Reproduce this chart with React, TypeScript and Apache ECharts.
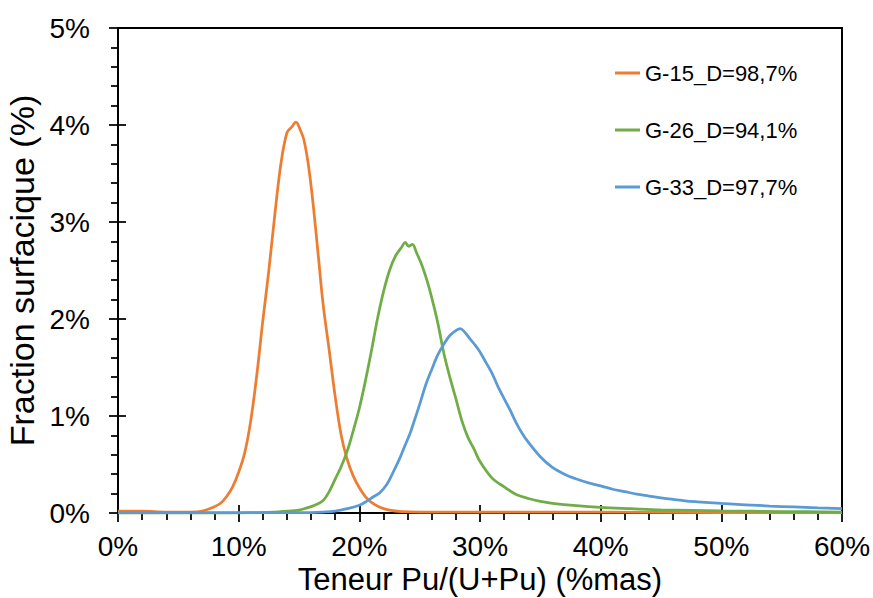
import React, { useEffect, useRef } from "react";
import * as echarts from "echarts";

const FONT = "'Liberation Sans', Arial, sans-serif";

const seriesNames = ["G-15_D=98,7%", "G-26_D=94,1%", "G-33_D=97,7%"];
const seriesColors = ["#ED7D31", "#70AD47", "#5B9BD5"];

const xTickValues = [0, 10, 20, 30, 40, 50, 60];
const yTickValues = [0, 1, 2, 3, 4, 5];

// G-15 (orange)
const g15X = [0, 2, 4, 6, 7, 7.9, 8.5, 9, 9.5, 10, 10.5, 11, 11.5, 12, 12.5, 13, 13.5, 14, 14.4, 14.75, 15.1, 15.4, 15.8, 16.2, 16.6, 17, 17.5, 18, 18.5, 19, 19.5, 20, 20.5, 21, 21.7, 22.5, 23.5, 25, 30, 40, 50, 60];
const g15Y = [0.02, 0.02, 0.01, 0.01, 0.02, 0.06, 0.1, 0.17, 0.27, 0.42, 0.62, 0.95, 1.42, 1.98, 2.5, 3.08, 3.6, 3.92, 3.98, 4.03, 3.95, 3.85, 3.57, 3.15, 2.65, 2.15, 1.68, 1.2, 0.8, 0.55, 0.38, 0.26, 0.17, 0.11, 0.06, 0.03, 0.015, 0.01, 0.01, 0.008, 0.005, 0.005];

// G-26 (green)
const g26X = [0, 10, 13, 14, 15, 15.6, 16.3, 17, 17.5, 18, 18.5, 19, 19.5, 20, 20.5, 21, 21.5, 22, 22.5, 23, 23.5, 23.8, 24.1, 24.4, 24.75, 25.2, 25.6, 26, 26.5, 27, 27.5, 28, 28.5, 29, 29.5, 30, 31, 32, 33, 34, 35, 36, 38, 40, 42.5, 45, 50, 55, 60];
const g26Y = [0, 0, 0.01, 0.02, 0.03, 0.05, 0.08, 0.13, 0.22, 0.35, 0.48, 0.64, 0.85, 1.08, 1.36, 1.67, 2.0, 2.28, 2.5, 2.65, 2.74, 2.79, 2.75, 2.77, 2.68, 2.55, 2.4, 2.22, 1.96, 1.65, 1.4, 1.18, 0.95, 0.78, 0.66, 0.53, 0.36, 0.27, 0.19, 0.15, 0.12, 0.1, 0.075, 0.058, 0.045, 0.033, 0.022, 0.015, 0.01];

// G-33 (blue)
const g33X = [0, 10, 16, 17, 18, 19, 20, 20.6, 21.2, 21.7, 22.3, 22.8, 23.3, 23.7, 24.2, 24.5, 25, 25.5, 26, 26.5, 27, 27.5, 28, 28.35, 28.7, 29.2, 29.6, 30, 30.5, 31, 31.5, 32, 32.5, 33, 33.5, 34, 35, 36, 37, 38, 39, 40, 41, 42, 43, 44, 45, 46, 47, 48, 50, 52, 54, 56, 58, 60];
const g33Y = [0.005, 0.005, 0.005, 0.01, 0.02, 0.045, 0.08, 0.12, 0.17, 0.21, 0.3, 0.42, 0.55, 0.67, 0.82, 0.93, 1.12, 1.32, 1.48, 1.63, 1.74, 1.83, 1.88, 1.9, 1.87, 1.79, 1.73, 1.66, 1.55, 1.44, 1.3, 1.18, 1.06, 0.93, 0.82, 0.73, 0.58, 0.47, 0.4, 0.35, 0.31, 0.28, 0.245, 0.22, 0.195, 0.175, 0.155, 0.14, 0.125, 0.115, 0.098, 0.085, 0.072, 0.062, 0.052, 0.045];

const seriesX = [g15X, g26X, g33X];
const seriesY = [g15Y, g26Y, g33Y];

export default function App() {
  const ref = useRef<HTMLDivElement>(null);

  useEffect(() => {
    document.body.style.margin = "0";
    if (!ref.current) return;
    const chart = echarts.init(ref.current, undefined, { renderer: "svg" });

    const lineBlack = { color: "#000", width: 2 };
    const tickStyle = { color: "#000", width: 1.75 };

    const xMin = xTickValues[0];
    const xMax = xTickValues[xTickValues.length - 1];
    const xInt = xTickValues[1] - xTickValues[0];
    const yMin = yTickValues[0];
    const yMax = yTickValues[yTickValues.length - 1];
    const yInt = yTickValues[1] - yTickValues[0];

    chart.setOption({
      animation: false,
      backgroundColor: "#fff",
      grid: {
        left: 118,
        right: 31,
        top: 28,
        bottom: 85,
        containLabel: false,
        outerBoundsMode: "none",
        show: true,
        borderColor: "#000",
        borderWidth: 2,
        backgroundColor: "transparent",
      },
      legend: {
        orient: "vertical",
        left: 610,
        top: 57,
        icon: "rect",
        itemWidth: 25,
        itemHeight: 3,
        itemGap: 35,
        data: seriesNames,
        textStyle: { fontSize: 22, color: "#000", fontFamily: FONT, lineHeight: 22 },
      },
      xAxis: [
        {
          type: "value",
          min: xMin,
          max: xMax,
          interval: xInt,
          position: "bottom",
          axisLine: { show: true, onZero: false, lineStyle: lineBlack },
          axisTick: { show: true, inside: false, length: 9, lineStyle: tickStyle },
          minorTick: { show: true, splitNumber: 5, length: 7, lineStyle: tickStyle },
          splitLine: { show: false },
          minorSplitLine: { show: false },
          axisLabel: { formatter: "{value}%", fontSize: 28, lineHeight: 28, margin: 19, color: "#000", fontFamily: FONT },
          name: "Teneur Pu/(U+Pu) (%mas)",
          nameLocation: "middle",
          nameGap: 50,
          nameMoveOverlap: false,
          nameTextStyle: { fontSize: 31, color: "#000", fontFamily: FONT, lineHeight: 33 },
        },
        {
          type: "value",
          min: xMin,
          max: xMax,
          interval: xInt,
          position: "bottom",
          axisLine: { show: false, onZero: false },
          axisTick: { show: true, inside: true, length: 8, lineStyle: tickStyle },
          axisLabel: { show: false },
          splitLine: { show: false },
        },
      ],
      yAxis: [
        {
          type: "value",
          min: yMin,
          max: yMax,
          interval: yInt,
          position: "left",
          axisLine: { show: true, onZero: false, lineStyle: lineBlack },
          axisTick: { show: true, inside: false, length: 9, lineStyle: tickStyle },
          minorTick: { show: true, splitNumber: 5, length: 7, lineStyle: tickStyle },
          splitLine: { show: false },
          minorSplitLine: { show: false },
          axisLabel: { formatter: "{value}%", fontSize: 28, margin: 28, color: "#000", fontFamily: FONT },
          name: "Fraction surfacique (%)",
          nameLocation: "middle",
          nameGap: 72,
          nameTextStyle: { fontSize: 34, color: "#000", fontFamily: FONT },
        },
        {
          type: "value",
          min: yMin,
          max: yMax,
          interval: yInt,
          position: "left",
          axisLine: { show: false, onZero: false },
          axisTick: { show: true, inside: true, length: 8, lineStyle: tickStyle },
          axisLabel: { show: false },
          splitLine: { show: false },
        },
      ],
      series: seriesNames.map((name, i) => ({
        name,
        type: "line",
        xAxisIndex: 0,
        yAxisIndex: 0,
        symbol: "none",
        smooth: 0.35,
        color: seriesColors[i],
        lineStyle: { color: seriesColors[i], width: 2.75 },
        data: seriesX[i].map((x, j) => [x, seriesY[i][j]]),
      })),
    });

    return () => chart.dispose();
  }, []);

  return <div ref={ref} style={{ width: 873, height: 598 }} />;
}
